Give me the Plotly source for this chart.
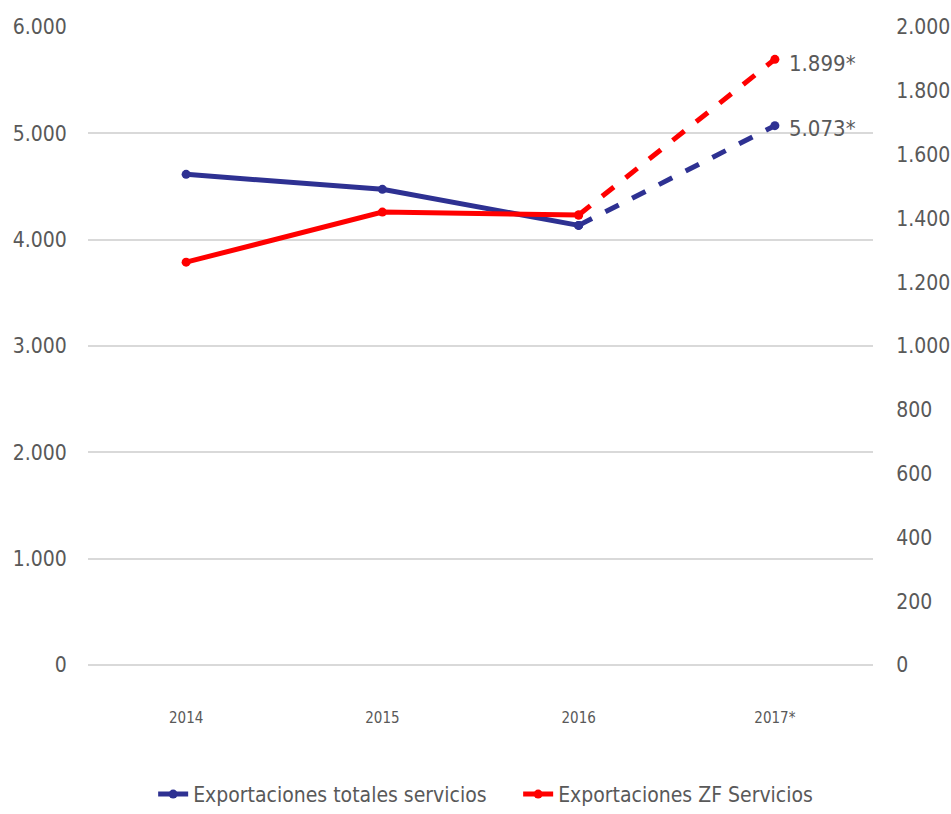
import plotly.graph_objects as go

years = ["2014", "2015", "2016", "2017*"]
totales = [4615, 4474, 4135, 5073]
zf = [1263, 1420, 1411, 1899]
labels_2017 = ["5.073*", "1.899*"]

BLUE = "#2E3192"
RED = "#FF0000"
GRAY = "#595959"
FONT = "DejaVu Sans Condensed, Liberation Sans Narrow, sans-serif"

fig = go.Figure()
# solid parts (2014-2016)
fig.add_trace(go.Scatter(x=years[:3], y=totales[:3], mode="lines+markers",
                         name="Exportaciones totales servicios",
                         line=dict(color=BLUE, width=5), marker=dict(size=9, color=BLUE),
                         yaxis="y"))
fig.add_trace(go.Scatter(x=years[:3], y=zf[:3], mode="lines+markers",
                         name="Exportaciones ZF Servicios",
                         line=dict(color=RED, width=5), marker=dict(size=9, color=RED),
                         yaxis="y2"))
# dashed projection (2016-2017)
fig.add_trace(go.Scatter(x=years[2:], y=totales[2:], mode="lines+markers", showlegend=False,
                         line=dict(color=BLUE, width=5, dash="dash"), marker=dict(size=9, color=BLUE),
                         yaxis="y"))
fig.add_trace(go.Scatter(x=years[2:], y=zf[2:], mode="lines+markers", showlegend=False,
                         line=dict(color=RED, width=5, dash="dash"), marker=dict(size=9, color=RED),
                         yaxis="y2"))

fig.add_annotation(x=years[3], y=totales[3], yref="y", text=labels_2017[0], showarrow=False,
                   xanchor="left", xshift=12, yshift=-3, font=dict(size=22, color=GRAY, family=FONT))
fig.add_annotation(x=years[3], y=zf[3], yref="y2", text=labels_2017[1], showarrow=False,
                   xanchor="left", xshift=12, yshift=-4, font=dict(size=22, color=GRAY, family=FONT))

fig.update_layout(
    width=951, height=814,
    margin=dict(l=88, r=78, t=27, b=149),
    paper_bgcolor="white", plot_bgcolor="white",
    separators=",.",
    font=dict(family=FONT, color=GRAY, size=21),
    showlegend=True,
    legend=dict(orientation="h", x=0.083, xanchor="left",
                yref="container", y=0.024, yanchor="middle",
                font=dict(size=21, color=GRAY, family=FONT), itemwidth=30, entrywidth=320,
                tracegroupgap=0),
    xaxis=dict(type="category", range=[-0.5, 3.5], showgrid=False, zeroline=False,
               showline=False, automargin=False,
               ticks="outside", ticklen=39, tickcolor="rgba(0,0,0,0)",
               tickfont=dict(size=15, color=GRAY, family=FONT)),
    yaxis=dict(range=[0, 6001], tickvals=[0, 1000, 2000, 3000, 4000, 5000, 6000],
               tickformat=",", showgrid=True, automargin=False,
               gridcolor="#D9D9D9", gridwidth=2, zeroline=True, zerolinecolor="#D9D9D9",
               zerolinewidth=2, showline=False,
               ticks="outside", ticklen=16, tickcolor="rgba(0,0,0,0)",
               tickfont=dict(size=21, color=GRAY, family=FONT)),
    yaxis2=dict(range=[0, 2000.333], tickvals=list(range(0, 2001, 200)), tickformat=",",
                overlaying="y", side="right", automargin=False,
                showgrid=False, zeroline=False, showline=False,
                ticks="outside", ticklen=18, tickcolor="rgba(0,0,0,0)",
                tickfont=dict(size=21, color=GRAY, family=FONT)),
)

fig.write_html(
    "out.html",
    config={"displayModeBar": False},
    post_script="document.body.style.margin='0';document.body.style.overflow='hidden';"
                "document.documentElement.style.overflow='hidden';"
                "var g=document.querySelector('.plotly-graph-div');"
                "g.style.position='fixed';g.style.top='0';g.style.left='0';",
)
